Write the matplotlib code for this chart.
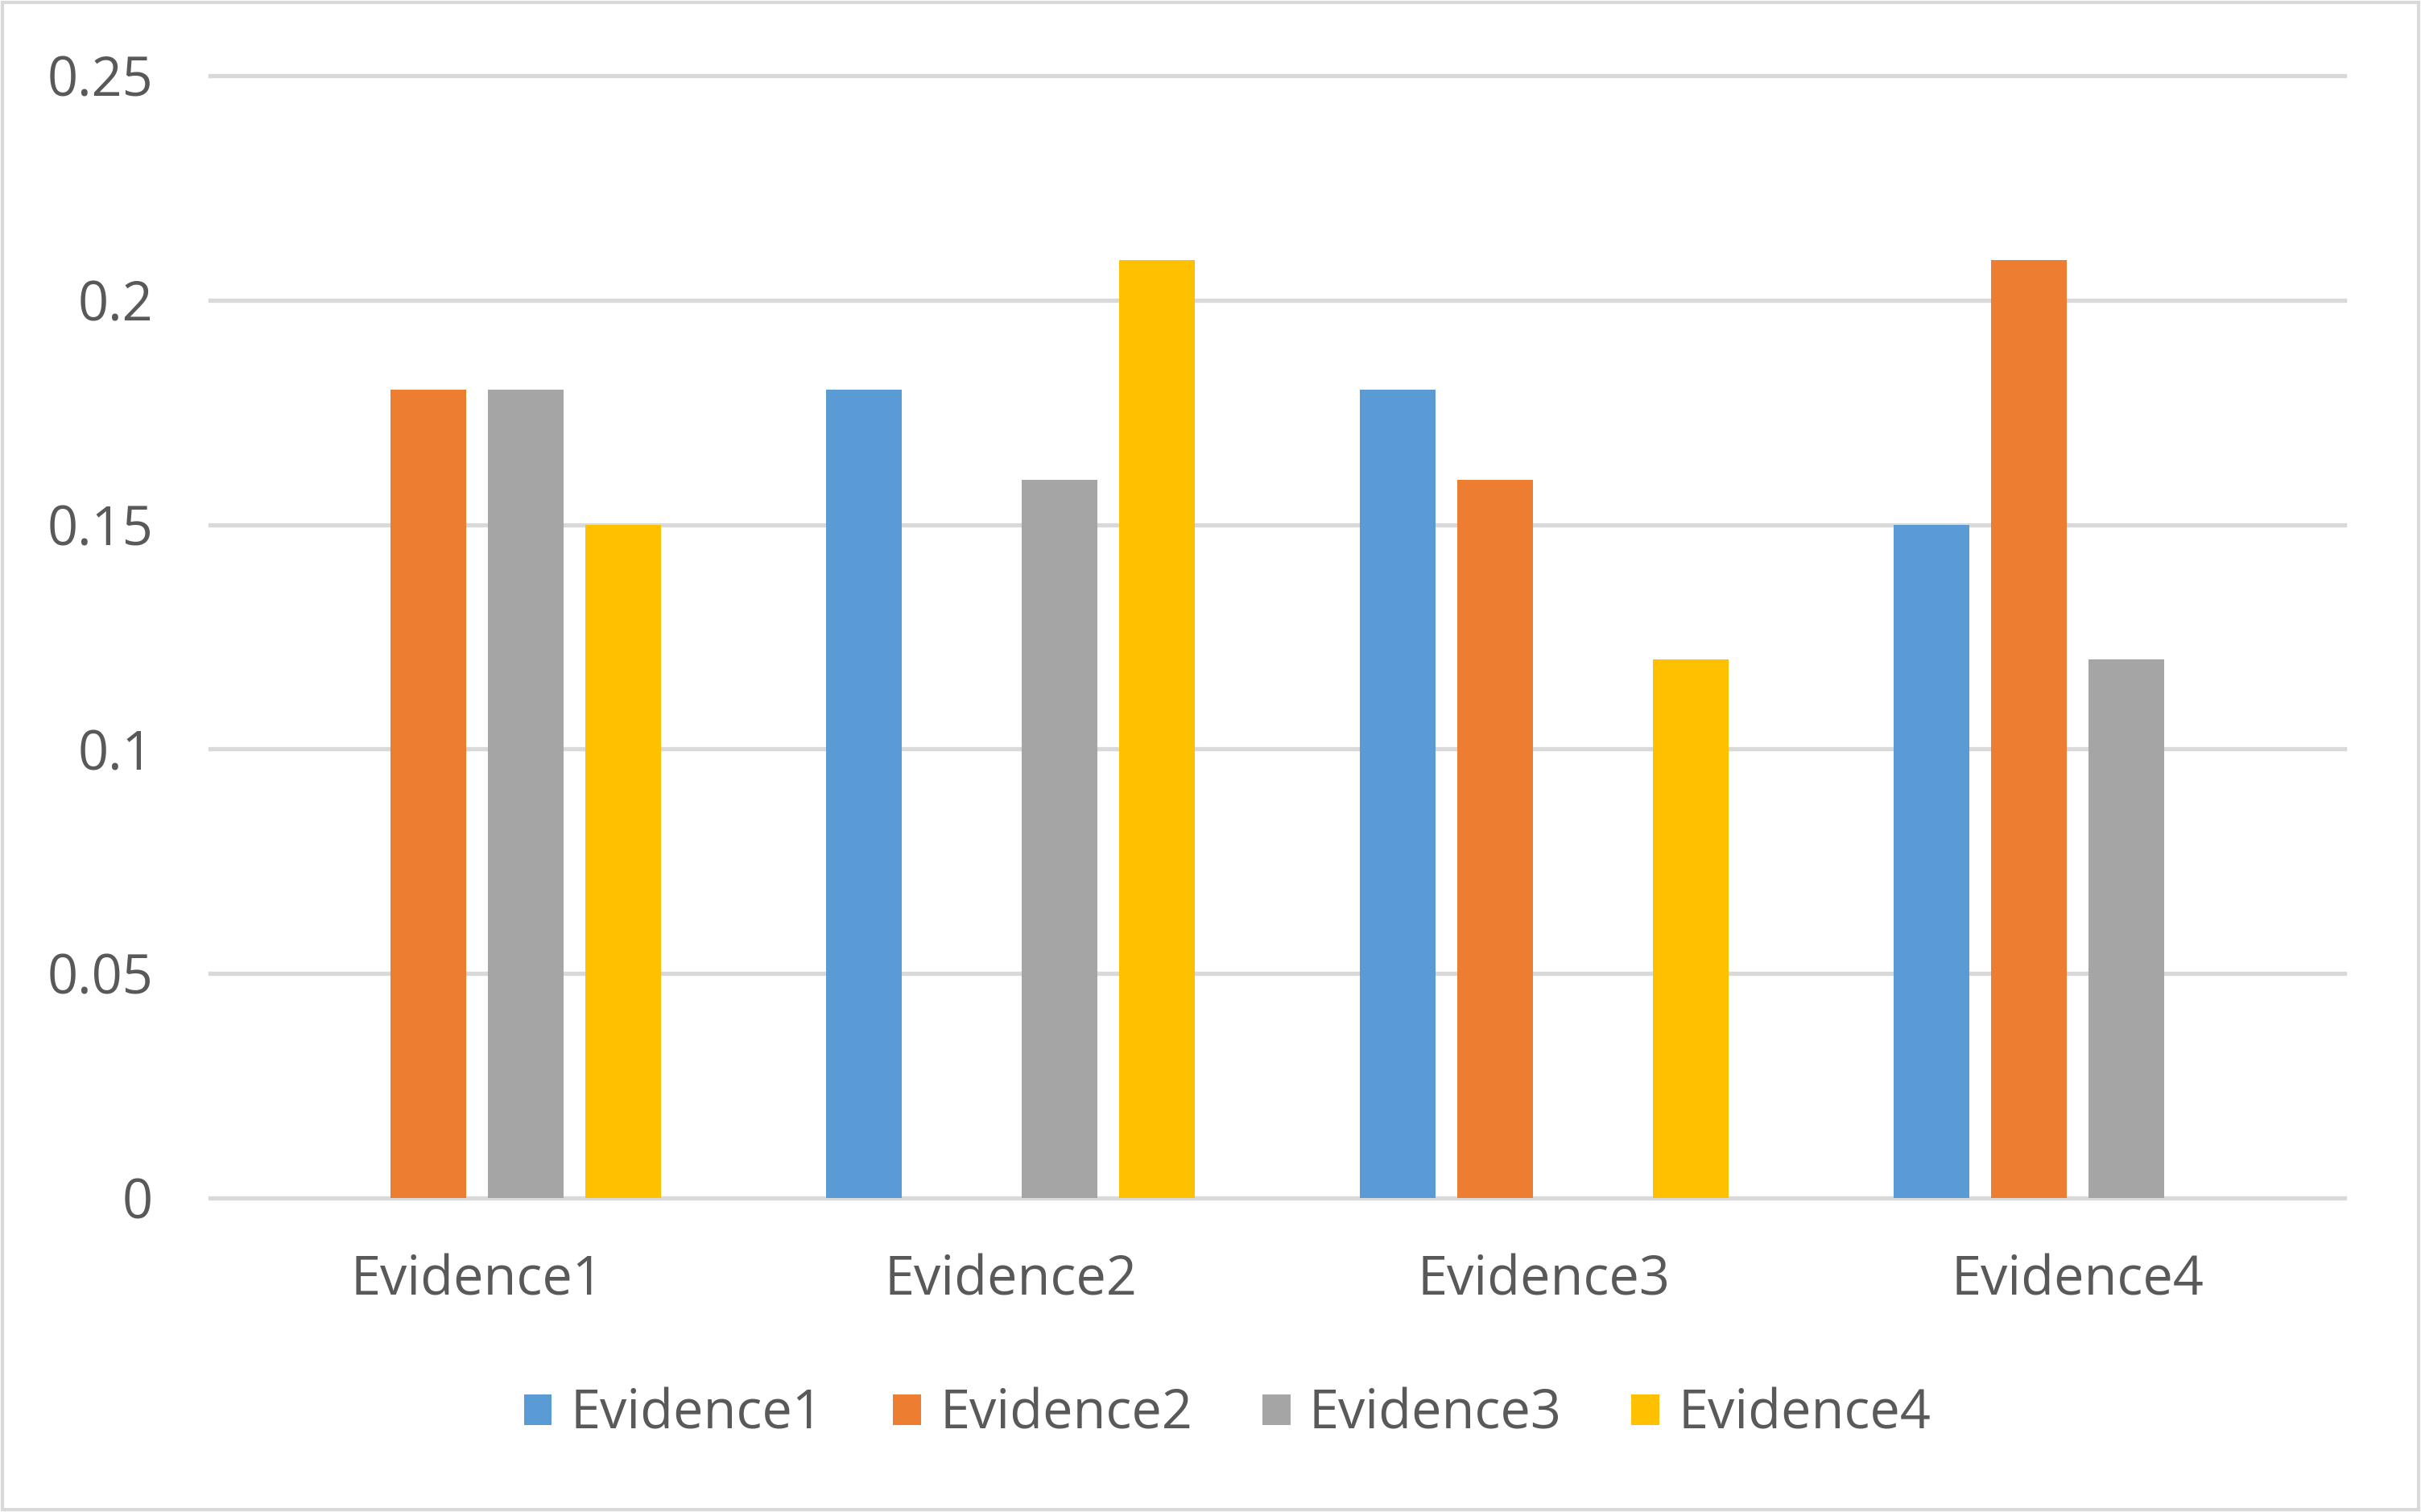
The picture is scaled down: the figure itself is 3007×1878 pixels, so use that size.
import matplotlib
matplotlib.use("Agg")
import matplotlib.pyplot as plt
import numpy as np
from matplotlib.patches import Rectangle

categories = ["Evidence1", "Evidence2", "Evidence3", "Evidence4"]
series_names = ["Evidence1", "Evidence2", "Evidence3", "Evidence4"]
evidence1 = [0.0, 0.18, 0.18, 0.15]
evidence2 = [0.18, 0.0, 0.16, 0.209]
evidence3 = [0.18, 0.16, 0.0, 0.12]
evidence4 = [0.15, 0.209, 0.12, 0.0]
yticks = [0, 0.05, 0.1, 0.15, 0.2, 0.25]
ytick_labels = ["0", "0.05", "0.1", "0.15", "0.2", "0.25"]

# values per series (series i across categories)
series_values = [
    [evidence1[0], evidence2[0], evidence3[0], evidence4[0]],
    [evidence1[1], evidence2[1], evidence3[1], evidence4[1]],
    [evidence1[2], evidence2[2], evidence3[2], evidence4[2]],
    [evidence1[3], evidence2[3], evidence3[3], evidence4[3]],
]
colors = ["#5B9BD5", "#ED7D31", "#A5A5A5", "#FFC000"]

plt.rcParams['font.family'] = ['Open Sans', 'DejaVu Sans']
text_color = "#595959"

fig = plt.figure(figsize=(30.07, 18.78), dpi=100)
ax = fig.add_axes([0.0868, 0.2077, 0.9684 - 0.0868, 0.95 - 0.2077])

x = np.arange(len(categories))
width = 0.142
step = 0.183
for i, (name, vals, c) in enumerate(zip(series_names, series_values, colors)):
    ax.bar(x + (i - 1.5) * step, vals, width, color=c, label=name, zorder=3)

ax.set_xlim(-0.5, 3.5)
ax.set_ylim(0, 0.25)
ax.set_yticks(yticks)
ax.set_yticklabels(ytick_labels)
ax.set_xticks(x)
ax.set_xticklabels(categories)
ax.tick_params(axis='both', length=0, labelsize=48, colors=text_color)
ax.tick_params(axis='y', pad=51)
ax.tick_params(axis='x', pad=50)
for s in ax.spines.values():
    s.set_visible(False)
ax.yaxis.grid(True, color="#D9D9D9", linewidth=3.8, zorder=0)
for gl in ax.get_ygridlines():
    gl.set_clip_on(False)
ax.set_axisbelow(True)

leg = fig.legend(loc='center', bbox_to_anchor=(0.507, 0.0645), ncol=4, frameon=False,
                 fontsize=48, handlelength=0.52, handleheight=0.52, handletextpad=0.35,
                 columnspacing=1.3, labelcolor=text_color)

fig.patches.append(Rectangle((0.001, 0.0015), 0.998, 0.997, transform=fig.transFigure,
                             fill=False, edgecolor="#D9D9D9", linewidth=3))

fig.savefig("out.png", dpi=100, facecolor="white")
